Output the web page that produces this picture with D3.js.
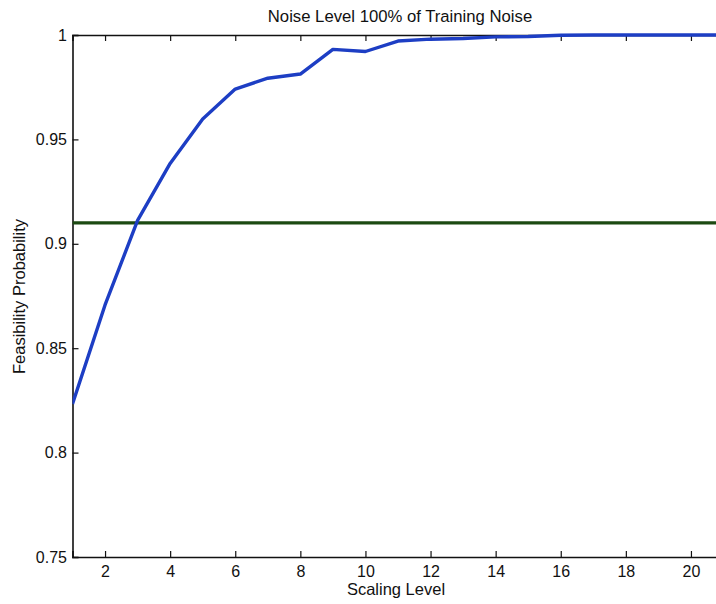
<!DOCTYPE html>
<html><head><meta charset="utf-8">
<script src="https://cdn.jsdelivr.net/npm/d3@7"></script>
<style>
body{margin:0;background:#fff;}
svg{display:block;}
text{font-family:"Liberation Sans",Arial,Helvetica,sans-serif;fill:#111;}
</style></head>
<body>
<svg id="chart" width="716" height="604"></svg>
<script>
const scalingLevels = [1,2,3,4,5,6,7,8,9,10,11,12,13,14,15,16,17,18,19,20,21];
const feasibility = [0.8233,0.8707,0.9112,0.9385,0.9598,0.9741,0.9793,0.9813,0.9931,0.9921,0.9971,0.9980,0.9983,0.9991,0.9993,0.9999,1.0,1.0,1.0,1.0,1.0];
const thresholdValue = 0.91;
const xTicks = [2,4,6,8,10,12,14,16,18,20];
const yTicks = [0.75,0.8,0.85,0.9,0.95,1];
const titleText = "Noise Level 100% of Training Noise";
const xLabel = "Scaling Level";
const yLabel = "Feasibility Probability";

const svg = d3.select("#chart");
const mLeft = 72.5, mRight = 723.5, mTop = 35, mBottom = 557;
const x = d3.scaleLinear().domain([1,21]).range([mLeft,mRight]);
const y = d3.scaleLinear().domain([0.75,1]).range([mBottom,mTop]);

// axes
const xAxis = d3.axisBottom(x).tickValues(xTicks).tickSize(-6).tickPadding(8.5).tickFormat(d3.format("d"));
const yAxis = d3.axisLeft(y).tickValues(yTicks).tickSize(-6).tickPadding(5.5).tickFormat(d => d===1?"1":d3.format(".2~f")(d));
const gx = svg.append("g").attr("transform",`translate(0,${mBottom})`).call(xAxis);
const gy = svg.append("g").attr("transform",`translate(${mLeft},0)`).call(yAxis);
const gxTop = svg.append("g").attr("transform",`translate(0,${mTop})`).call(d3.axisTop(x).tickValues(xTicks).tickSize(-6).tickFormat(""));
[gx,gy,gxTop].forEach(g=>{
  g.selectAll("path.domain").attr("stroke","#111").attr("stroke-width",1.6);
  g.selectAll(".tick line").attr("stroke","#111").attr("stroke-width",1.2);
  g.selectAll(".tick text").style("font-size","16px").attr("fill","#111");
});

// clip
svg.append("clipPath").attr("id","clip").append("rect").attr("x",mLeft).attr("y",mTop-3).attr("width",mRight-mLeft).attr("height",mBottom-mTop+3);

// threshold line
svg.append("line").attr("clip-path","url(#clip)")
  .attr("x1",x(1)).attr("x2",x(21)).attr("y1",y(thresholdValue)).attr("y2",y(thresholdValue))
  .attr("stroke","#1c4a12").attr("stroke-width",3.2);

// data line
const line = d3.line().x((d,i)=>x(scalingLevels[i])).y(d=>y(d));
svg.append("path").datum(feasibility).attr("clip-path","url(#clip)")
  .attr("d",line).attr("fill","none").attr("stroke","#1d3ec4").attr("stroke-width",3.4).attr("stroke-linejoin","round");

// texts
svg.append("text").attr("x",400).attr("y",22).attr("text-anchor","middle").style("font-size","16.7px").text(titleText);
svg.append("text").attr("x",396).attr("y",595).attr("text-anchor","middle").style("font-size","16.5px").text(xLabel);
svg.append("text").attr("transform","translate(25,296.5) rotate(-90)").attr("text-anchor","middle").style("font-size","16.5px").text(yLabel);
</script>
</body></html>
